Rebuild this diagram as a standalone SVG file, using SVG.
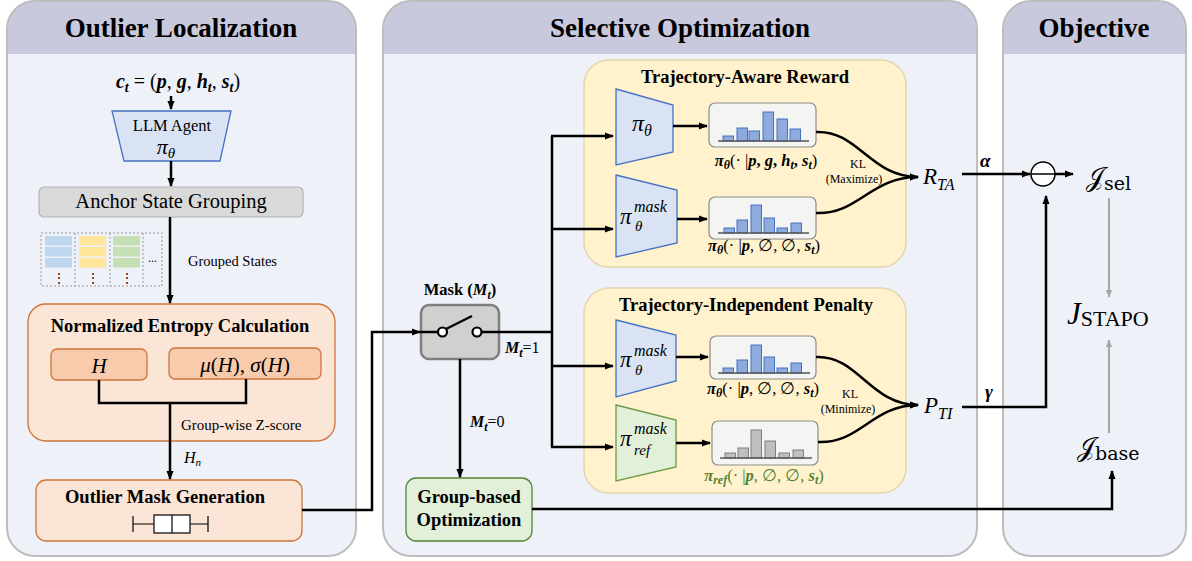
<svg xmlns="http://www.w3.org/2000/svg" width="1192" height="561" viewBox="0 0 1192 561">
<defs>
<marker id="ah" viewBox="0 0 10 10" refX="9" refY="5" markerWidth="9" markerHeight="9" markerUnits="userSpaceOnUse" orient="auto"><path d="M0,1 L10,5 L0,9 z" fill="#000"/></marker>
<marker id="ahg" viewBox="0 0 10 10" refX="9" refY="5" markerWidth="8" markerHeight="8" markerUnits="userSpaceOnUse" orient="auto"><path d="M0,1 L10,5 L0,9 z" fill="#a6a6a6"/></marker>
<style>
text{font-family:"Liberation Serif","DejaVu Serif",serif;fill:#000}
.ttl{font-size:27px;font-weight:bold;text-anchor:middle}
.hd{fill:#c9c9dd}
.body{fill:#eef1f7}
.pb{fill:none;stroke:#bdbdbd;stroke-width:2}
.ln{stroke:#000;stroke-width:2.5;fill:none}
.gl{stroke:#a6a6a6;stroke-width:2;fill:none}
.yb{fill:#fff2cc;stroke:#e2d6ad;stroke-width:1.5}
.bt{fill:#dae3f3;stroke:#4472c4;stroke-width:1.3}
.gt{fill:#e2f0d9;stroke:#6a9a45;stroke-width:1.3}
.hb{fill:#f4f4f2;stroke:#8c8c8c;stroke-width:1.2}
.bb{fill:#8faadc;stroke:#4472c4;stroke-width:1}
.gb{fill:#bfbfbf;stroke:#7f7f7f;stroke-width:1}
.base{stroke:#555;stroke-width:1.5}
.ob{fill:#fbe5d6;stroke:#d0743a;stroke-width:1.3}
.oi{fill:#f8cbad;stroke:#d0743a;stroke-width:1.3}
.bt18{font-size:18.5px;font-weight:bold;text-anchor:middle}
.m{font-style:italic}
.bm{font-style:italic;font-weight:bold}
.small{font-size:12px;text-anchor:middle}
.hl{font-size:16.5px;text-anchor:middle}
.sup{font-size:16px;font-style:italic}
.sub{font-size:15px;font-style:italic}
</style>
</defs>

<!-- Panels -->
<g id="panel-left">
<rect x="7" y="1" width="349" height="555" rx="28" class="body"/>
<path d="M7,54 V29 A28,28 0 0 1 35,1 H328 A28,28 0 0 1 356,29 V54 Z" class="hd"/>
<rect x="7" y="1" width="349" height="555" rx="28" class="pb"/>
<text x="181" y="37" class="ttl">Outlier Localization</text>
</g>
<g id="panel-mid">
<rect x="383" y="1" width="594" height="555" rx="28" class="body"/>
<path d="M383,54 V29 A28,28 0 0 1 411,1 H949 A28,28 0 0 1 977,29 V54 Z" class="hd"/>
<rect x="383" y="1" width="594" height="555" rx="28" class="pb"/>
<text x="680" y="37" class="ttl">Selective Optimization</text>
</g>
<g id="panel-right">
<rect x="1003" y="1" width="183" height="555" rx="28" class="body"/>
<path d="M1003,54 V29 A28,28 0 0 1 1031,1 H1158 A28,28 0 0 1 1186,29 V54 Z" class="hd"/>
<rect x="1003" y="1" width="183" height="555" rx="28" class="pb"/>
<text x="1094" y="37" class="ttl">Objective</text>
</g>

<!-- Left panel nodes -->
<g id="ct">
<text x="178" y="88" font-size="20" text-anchor="middle"><tspan class="bm">c</tspan><tspan class="bm" font-size="14" dy="4">t</tspan><tspan dy="-4"> = (</tspan><tspan class="bm">p</tspan>, <tspan class="bm">g</tspan>, <tspan class="bm">h</tspan><tspan class="bm" font-size="14" dy="4">t</tspan><tspan dy="-4">, </tspan><tspan class="bm">s</tspan><tspan class="bm" font-size="14" dy="4">t</tspan><tspan dy="-4">)</tspan></text>
</g>
<g id="llm">
<path d="M112,111 H231 L220,161 H124 Z" class="bt"/>
<text x="172" y="131" font-size="16.5" text-anchor="middle">LLM Agent</text>
<text x="166" y="154" font-size="22" class="m" text-anchor="middle">π<tspan font-size="15" dy="4">θ</tspan></text>
</g>
<g id="anchor">
<rect x="39" y="187" width="264" height="30" rx="5" fill="#d9d9d9" stroke="#b3b3b3" stroke-width="1.2"/>
<text x="171" y="208" font-size="20.5" text-anchor="middle">Anchor State Grouping</text>
</g>
<g id="grouped">
<rect x="41" y="233" width="121" height="53" fill="none" stroke="#9a9a9a" stroke-width="1" stroke-dasharray="2,2"/>
<path d="M75,233 V286 M110,233 V286 M143,233 V286" stroke="#9a9a9a" stroke-width="1" stroke-dasharray="2,2"/>
<g fill="#bdd7ee"><rect x="45" y="236" width="27" height="9.5"/><rect x="45" y="247" width="27" height="9.5"/><rect x="45" y="258" width="27" height="9.5"/></g>
<g fill="#ffe699"><rect x="79" y="236" width="27" height="9.5"/><rect x="79" y="247" width="27" height="9.5"/><rect x="79" y="258" width="27" height="9.5"/></g>
<g fill="#c5e0b4"><rect x="113" y="236" width="27" height="9.5"/><rect x="113" y="247" width="27" height="9.5"/><rect x="113" y="258" width="27" height="9.5"/></g>
<text x="58.5" y="282" class="small">⋮</text>
<text x="92.5" y="282" class="small">⋮</text>
<text x="126.5" y="282" class="small">⋮</text>
<text x="152.5" y="262" class="small">...</text>
<text x="188" y="266" font-size="14.5">Grouped States</text>
</g>
<g id="entropy">
<rect x="28" y="304" width="307" height="137" rx="18" class="ob"/>
<text x="180" y="332" class="bt18">Normalized Entropy Calculation</text>
<rect x="51" y="349" width="96" height="31" rx="6" class="oi"/>
<text x="99" y="373" font-size="21" class="m" text-anchor="middle">H</text>
<rect x="169" y="348" width="152" height="31" rx="6" class="oi"/>
<text x="245" y="372" font-size="21" text-anchor="middle"><tspan class="m">μ</tspan>(<tspan class="m">H</tspan>), <tspan class="m">σ</tspan>(<tspan class="m">H</tspan>)</text>
<text x="181" y="430" font-size="15">Group-wise Z-score</text>
</g>
<g id="outlier-mask">
<rect x="36" y="480" width="266" height="61" rx="10" class="ob"/>
<text x="165" y="503" class="bt18">Outlier Mask Generation</text>
<g stroke="#000" stroke-width="1.2" fill="#fff">
<path d="M133,516 V532 M133,524 H154 M190,524 H208 M208,516 V532" fill="none"/>
<rect x="154" y="515" width="36" height="18"/>
<path d="M172,515 V533"/>
</g>
</g>

<!-- Middle nodes -->
<g id="mask">
<text x="460" y="295" font-size="16.5" font-weight="bold" text-anchor="middle">Mask (<tspan class="bm">M</tspan><tspan class="bm" font-size="12" dy="4">t</tspan><tspan dy="-4">)</tspan></text>
<rect x="421" y="305" width="78" height="54" rx="8" fill="#d0d0d0" stroke="#7f7f7f" stroke-width="2.5"/>
</g>
<g id="group-opt">
<rect x="406" y="478" width="126" height="63" rx="10" fill="#e2f0d9" stroke="#548235" stroke-width="1.3"/>
<text x="469" y="503" class="bt18">Group-based</text>
<text x="469" y="526" class="bt18">Optimization</text>
</g>

<g id="reward">
<rect x="584" y="60" width="322" height="207" rx="25" class="yb"/>
<text x="745" y="83" class="bt18">Trajectory-Aware Reward</text>
<path d="M616,89 L673,105 V152 L616,165 Z" class="bt"/>
<text x="632" y="131" font-size="24" class="m">π<tspan font-size="16" dy="5">θ</tspan></text>
<path d="M616,175 L677,190 V243 L616,257 Z" class="bt"/>
<text x="620" y="224" font-size="23" class="m">π</text>
<text x="634" y="212" class="sup">mask</text>
<text x="635" y="231" class="sub">θ</text>
<rect x="709" y="103" width="107" height="44" rx="6" class="hb"/>
<g class="bb"><rect x="723" y="136" width="10.5" height="5"/><rect x="737" y="128" width="10.5" height="13"/><rect x="749" y="131" width="10.5" height="10"/><rect x="763" y="112" width="10.5" height="29"/><rect x="777" y="119" width="10.5" height="22"/><rect x="790" y="129" width="10.5" height="12"/></g>
<line x1="718" y1="141" x2="809" y2="141" class="base"/>
<text x="766" y="166" class="hl"><tspan class="bm">π</tspan><tspan class="bm" font-size="12" dy="3">θ</tspan><tspan dy="-3">(· |</tspan><tspan class="bm">p</tspan><tspan font-weight="bold">, </tspan><tspan class="bm">g</tspan><tspan font-weight="bold">, </tspan><tspan class="bm">h</tspan><tspan class="bm" font-size="12" dy="3">t</tspan><tspan dy="-3" font-weight="bold">, </tspan><tspan class="bm">s</tspan><tspan class="bm" font-size="12" dy="3">t</tspan><tspan dy="-3">)</tspan></text>
<rect x="709" y="197" width="107" height="42" rx="6" class="hb"/>
<g class="bb"><rect x="724" y="228" width="10.5" height="5"/><rect x="737" y="220" width="10.5" height="13"/><rect x="751" y="205" width="10.5" height="28"/><rect x="764" y="218" width="10.5" height="15"/><rect x="777" y="228" width="10.5" height="5"/><rect x="791" y="223" width="10.5" height="10"/></g>
<line x1="718" y1="233" x2="809" y2="233" class="base"/>
<text x="764" y="251" class="hl"><tspan class="bm">π</tspan><tspan class="bm" font-size="12" dy="3">θ</tspan><tspan dy="-3">(· |</tspan><tspan class="bm">p</tspan>, ∅, ∅, <tspan class="bm">s</tspan><tspan class="bm" font-size="12" dy="3">t</tspan><tspan dy="-3">)</tspan></text>
<text x="858" y="168" font-size="12" text-anchor="middle">KL</text>
<text x="854" y="183" font-size="12" text-anchor="middle">(Maximize)</text>
</g>

<g id="penalty">
<rect x="584" y="288" width="322" height="205" rx="25" class="yb"/>
<text x="746" y="311" class="bt18">Trajectory-Independent Penalty</text>
<path d="M616,320 L676,335 V381 L616,397 Z" class="bt"/>
<text x="620" y="367" font-size="23" class="m">π</text>
<text x="634" y="356" class="sup">mask</text>
<text x="635" y="375" class="sub">θ</text>
<path d="M616,405 L676,420 V467 L616,481 Z" class="gt"/>
<text x="620" y="446" font-size="23" class="m">π</text>
<text x="634" y="434" class="sup">mask</text>
<text x="634" y="455" class="sub">ref</text>
<rect x="710" y="336" width="106" height="43" rx="6" class="hb"/>
<g class="bb"><rect x="723" y="368" width="10.5" height="5"/><rect x="737" y="360" width="10.5" height="13"/><rect x="751" y="345" width="10.5" height="28"/><rect x="764" y="357" width="10.5" height="16"/><rect x="777" y="368" width="10.5" height="5"/><rect x="791" y="363" width="10.5" height="10"/></g>
<line x1="718" y1="373" x2="810" y2="373" class="base"/>
<text x="763" y="394" class="hl"><tspan class="bm">π</tspan><tspan class="bm" font-size="12" dy="3">θ</tspan><tspan dy="-3">(· |</tspan><tspan class="bm">p</tspan>, ∅, ∅, <tspan class="bm">s</tspan><tspan class="bm" font-size="12" dy="3">t</tspan><tspan dy="-3">)</tspan></text>
<rect x="712" y="421" width="106" height="44" rx="6" class="hb"/>
<g class="gb"><rect x="725" y="453" width="10.5" height="5"/><rect x="738" y="448" width="10.5" height="10"/><rect x="751" y="430" width="10.5" height="28"/><rect x="765" y="441" width="10.5" height="17"/><rect x="779" y="453" width="10.5" height="5"/><rect x="793" y="450" width="10.5" height="8"/></g>
<line x1="720" y1="458" x2="812" y2="458" class="base"/>
<text x="764" y="481" class="hl" style="fill:#548235"><tspan class="bm" style="fill:#548235">π</tspan><tspan class="bm" font-size="12" dy="3" style="fill:#548235">ref</tspan><tspan dy="-3" style="fill:#548235">(· |</tspan><tspan class="bm" style="fill:#548235">p</tspan><tspan style="fill:#548235">, ∅, ∅, </tspan><tspan class="bm" style="fill:#548235">s</tspan><tspan class="bm" font-size="12" dy="3" style="fill:#548235">t</tspan><tspan dy="-3" style="fill:#548235">)</tspan></text>
<text x="850" y="398" font-size="12" text-anchor="middle">KL</text>
<text x="848" y="413" font-size="12" text-anchor="middle">(Minimize)</text>
</g>

<g id="rta"><text x="923" y="184" font-size="23" class="m">R<tspan font-size="16" dy="6">TA</tspan></text></g>
<g id="pti"><text x="924" y="413" font-size="23" class="m">P<tspan font-size="16" dy="6">TI</tspan></text></g>

<!-- Objective nodes -->
<g id="minus">
<circle cx="1043" cy="174" r="12" fill="#fff" stroke="#000" stroke-width="1.5"/>
<line x1="1031" y1="174" x2="1055" y2="174" stroke="#000" stroke-width="1.5"/>
</g>
<g id="jsel"><text x="1086" y="186" font-size="26" font-family="DejaVu Serif, serif">𝒥<tspan font-size="19" dy="4" font-family="DejaVu Serif, serif">sel</tspan></text></g>
<g id="jstapo"><text x="1067" y="324" font-size="31" class="m">J<tspan font-style="normal" font-size="22" dy="2">STAPO</tspan></text></g>
<g id="jbase"><text x="1077" y="456" font-size="26" font-family="DejaVu Serif, serif">𝒥<tspan font-size="19" dy="4" font-family="DejaVu Serif, serif">base</tspan></text></g>

<!-- Connectors -->
<g id="connectors">
<line x1="171" y1="96" x2="171" y2="109" class="ln" stroke-width="2" marker-end="url(#ah)"/>
<line x1="171" y1="161" x2="171" y2="186" class="ln" marker-end="url(#ah)"/>
<line x1="170" y1="217" x2="170" y2="303" class="ln" marker-end="url(#ah)"/>
<path d="M99,380 V403 H246 V379" class="ln"/>
<line x1="170" y1="403" x2="170" y2="479" class="ln" marker-end="url(#ah)"/>
<text x="184" y="463" font-size="16" class="m">H<tspan font-size="11" dy="3">n</tspan></text>
<path d="M302,510 H372 V332 H420" class="ln" marker-end="url(#ah)"/>
<line x1="420" y1="332" x2="438" y2="332" class="ln"/>
<circle cx="442.5" cy="332" r="4.5" fill="#fff" stroke="#000" stroke-width="2.2"/>
<circle cx="477" cy="332" r="4.5" fill="#fff" stroke="#000" stroke-width="2.2"/>
<line x1="446" y1="329" x2="472" y2="316" class="ln" stroke-width="2.2"/>
<path d="M481.5,332 H552" class="ln"/>
<text x="505" y="353" font-size="16"><tspan class="bm">M</tspan><tspan class="bm" font-size="12" dy="4">t</tspan><tspan dy="-4">=1</tspan></text>
<path d="M552,136 V447" class="ln"/>
<line x1="551" y1="136" x2="613" y2="136" class="ln" marker-end="url(#ah)"/>
<line x1="551" y1="229" x2="613" y2="229" class="ln" marker-end="url(#ah)"/>
<line x1="551" y1="366" x2="613" y2="366" class="ln" marker-end="url(#ah)"/>
<line x1="551" y1="447" x2="613" y2="447" class="ln" marker-end="url(#ah)"/>
<line x1="460" y1="359" x2="460" y2="477" class="ln" stroke-width="2" marker-end="url(#ah)"/>
<text x="470" y="427" font-size="16"><tspan class="bm">M</tspan><tspan class="bm" font-size="12" dy="4">t</tspan><tspan dy="-4">=0</tspan></text>
<line x1="673" y1="126" x2="707" y2="126" class="ln" marker-end="url(#ah)"/>
<line x1="677" y1="219" x2="707" y2="219" class="ln" marker-end="url(#ah)"/>
<line x1="676" y1="357" x2="708" y2="357" class="ln" marker-end="url(#ah)"/>
<line x1="676" y1="443" x2="710" y2="443" class="ln" marker-end="url(#ah)"/>
<path d="M816,132 C858,130 870,177 918,177" class="ln" stroke-width="3" marker-end="url(#ah)"/>
<path d="M816,213 C858,215 870,177 918,177" class="ln" stroke-width="3" marker-end="url(#ah)"/>
<path d="M816,357 C858,355 870,405 918,405" class="ln" stroke-width="3" marker-end="url(#ah)"/>
<path d="M818,442 C860,444 872,405 918,405" class="ln" stroke-width="3" marker-end="url(#ah)"/>
<line x1="962" y1="174" x2="1030" y2="174" class="ln" marker-end="url(#ah)"/>
<text x="980" y="167" font-size="19" class="bm">α</text>
<line x1="1055" y1="174" x2="1073" y2="174" class="ln" marker-end="url(#ah)"/>
<path d="M962,407 H1046 V196" class="ln" marker-end="url(#ah)"/>
<text x="985" y="398" font-size="19" class="bm">γ</text>
<path d="M532,509 H1112 V471" class="ln" marker-end="url(#ah)"/>
<line x1="1109" y1="198" x2="1109" y2="297" class="gl" marker-end="url(#ahg)"/>
<line x1="1109" y1="433" x2="1109" y2="340" class="gl" marker-end="url(#ahg)"/>
</g>
</svg>
